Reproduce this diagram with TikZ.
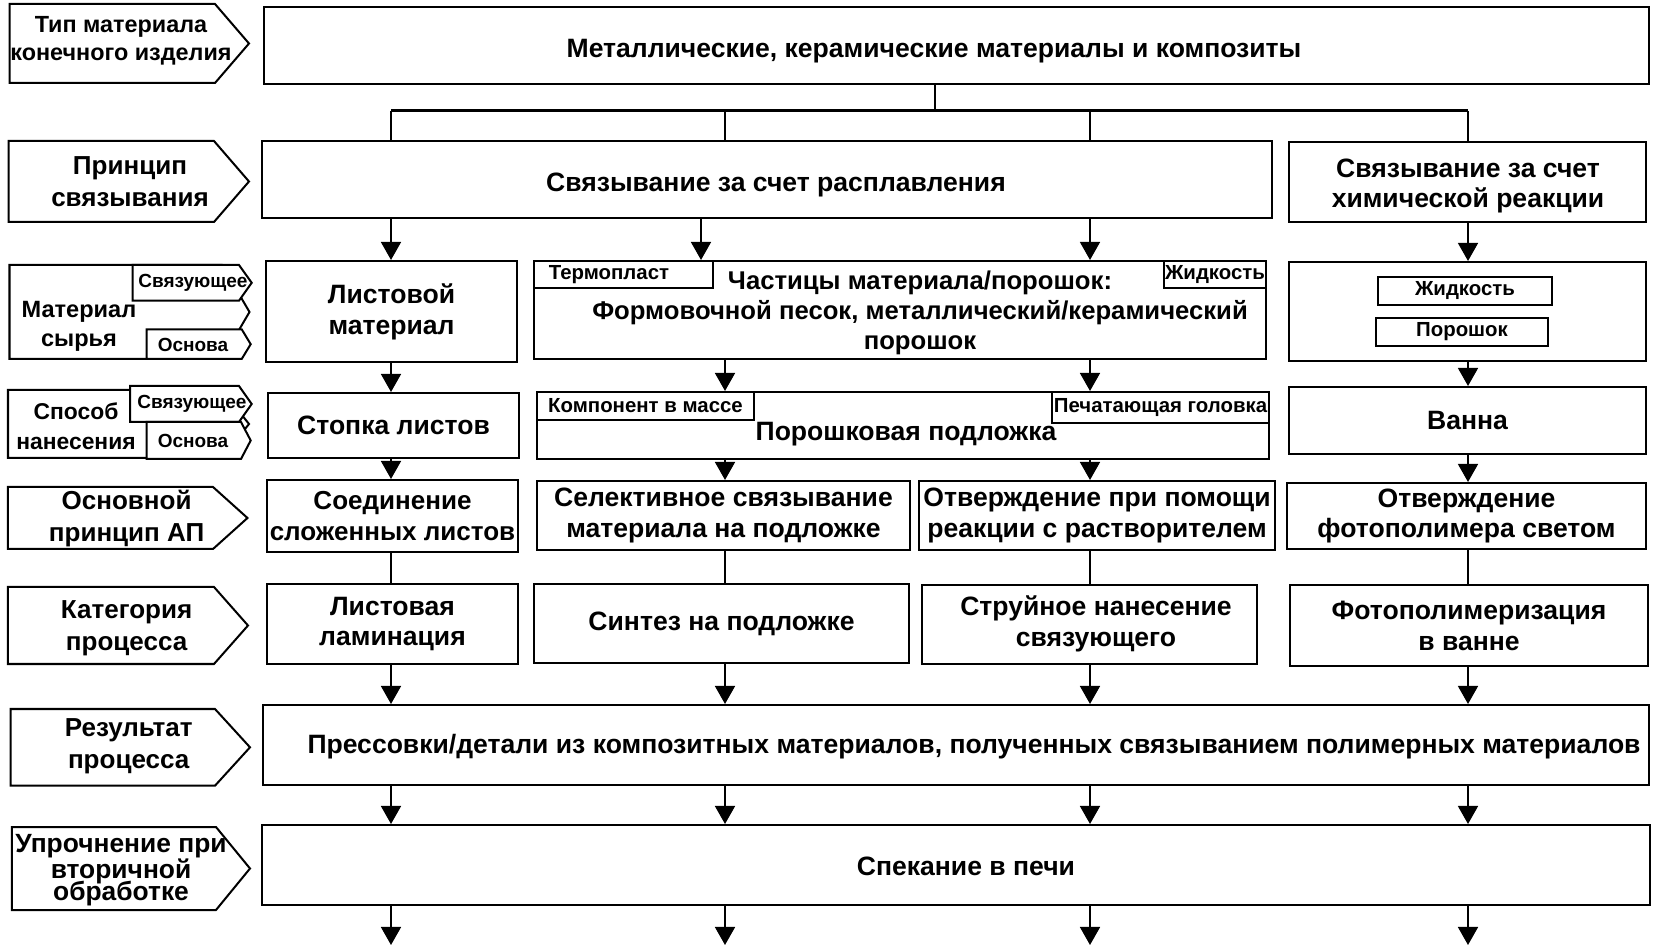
\documentclass[tikz,border=0pt]{standalone}
\usepackage{fontspec}
\setmainfont{Liberation Sans}
\usetikzlibrary{arrows.meta}

\begin{document}
\begin{tikzpicture}[x=0.01cm,y=-0.01cm,
  box/.style={draw, line width=0.02cm, inner sep=0pt, align=center, font=\fontsize{7.55}{8.8}\selectfont\bfseries},
  txt/.style={inner sep=0pt, align=center, font=\fontsize{7.55}{8.8}\selectfont\bfseries},
  tagbox/.style={draw, fill=white, line width=0.016cm, inner sep=0pt, font=\fontsize{5.8}{7}\selectfont\bfseries},
  lab/.style={align=center, inner sep=0pt, font=\fontsize{7.4}{9}\selectfont\bfseries},
  tagtext/.style={inner sep=0pt, font=\fontsize{5.4}{7}\selectfont\bfseries},
  arr/.style={-{Triangle[width=0.2cm,length=0.18cm]}, line width=0.016cm},
  link/.style={line width=0.016cm}]

\useasboundingbox (0,0) rectangle (1654,949);

% left column of row labels
\draw[line width=0.02cm] (9.6,4) -- (215,4) -- (249,43.5) -- (215,83) -- (9.6,83) -- cycle;
\node[lab, font=\fontsize{6.65}{8.1}\selectfont\bfseries] (typ) at (121,41) {Тип материала\\конечного изделия};

\draw[line width=0.02cm] (8.6,141) -- (214,141) -- (249,181.5) -- (214,222) -- (8.6,222) -- cycle;
\node[lab] (prin) at (130,182) {Принцип\\связывания};

\draw[line width=0.02cm] (9.5,265) -- (222,265) -- (249.5,312) -- (222,359) -- (9.5,359) -- cycle;
\draw[line width=0.02cm, fill=white] (132.7,265) -- (239,265) -- (251.7,282.8) -- (239,300.7) -- (132.7,300.7) -- cycle;
\draw[line width=0.02cm, fill=white] (146.7,329.3) -- (241.7,329.3) -- (250.7,344.2) -- (241.7,359) -- (146.7,359) -- cycle;
\node[lab, font=\fontsize{6.7}{8.2}\selectfont\bfseries] (raw) at (79,326) {Материал\\сырья};
\node[tagtext] (rawbind) at (193,283) {Связующее};
\node[tagtext] (rawbase) at (193,345) {Основа};

\draw[line width=0.02cm] (8,390) -- (222,390) -- (249,424) -- (222,458) -- (8,458) -- cycle;
\draw[line width=0.02cm, fill=white] (130,386) -- (239,386) -- (251.7,404) -- (239,422) -- (130,422) -- cycle;
\draw[line width=0.02cm, fill=white] (146.7,422) -- (241,422) -- (250.7,440.5) -- (241,459) -- (146.7,459) -- cycle;
\node[lab, font=\fontsize{6.5}{8.4}\selectfont\bfseries] (way) at (76,426) {Способ\\нанесения};
\node[tagtext] (waybind) at (192,404) {Связующее};
\node[tagtext] (waybase) at (193,441) {Основа};

\draw[line width=0.02cm] (7.9,487) -- (213,487) -- (247.5,518) -- (213,549) -- (7.9,549) -- cycle;
\node[lab] (basic) at (126.6,518.5) {Основной\\принцип АП};

\draw[line width=0.02cm] (7.9,587) -- (214,587) -- (248,625.5) -- (214,664) -- (7.9,664) -- cycle;
\node[lab] (cat) at (126.6,628) {Категория\\процесса};

\draw[line width=0.02cm] (10.7,709) -- (215,709) -- (250,747.3) -- (215,785.7) -- (10.7,785.7) -- cycle;
\node[lab] (res) at (128.7,746) {Результат\\процесса};

\draw[line width=0.02cm] (11.8,827) -- (216,827) -- (250,868.5) -- (216,910) -- (11.8,910) -- cycle;
\node[lab, font=\fontsize{7.5}{7.1}\selectfont\bfseries] (post) at (121,870) {Упрочнение при\\[-0.7pt]вторичной\\[-0.7pt]обработке};

% boxes
\node[box, minimum width=13.85cm, minimum height=0.76cm] (mat) at (956.5,45.5) {};
\node[txt] (mattext) at (934,51) {Металлические, керамические материалы и композиты};

\node[box, minimum width=10.1cm, minimum height=0.77cm] (melt) at (767,179.5) {};
\node[txt] (melttext) at (776,185) {Связывание за счет расплавления};
\node[box, minimum width=3.57cm, minimum height=0.80cm] (chem) at (1467.5,182) {};
\node[txt] (chemtext) at (1468,186) {Связывание за счет\\химической реакции};

\node[box, minimum width=2.51cm, minimum height=1.01cm] (sheet) at (391.5,311.5) {Листовой\\материал};
\node[box, minimum width=7.32cm, minimum height=0.98cm] (part) at (900,310) {};
\node[box, minimum width=3.57cm, minimum height=0.99cm] (chemmat) at (1467.5,311.5) {};

\node[tagbox, minimum width=1.79cm, minimum height=0.27cm] (termo) at (623.5,274.5) {};
\node[tagtext, font=\fontsize{5.8}{7}\selectfont\bfseries] (termotext) at (609,275) {Термопласт};
\node[tagbox, minimum width=1.02cm, minimum height=0.27cm] (liq) at (1215,274.5) {Жидкость};
\node[txt, font=\fontsize{7.3}{8.6}\selectfont\bfseries] (parttext) at (920,313) {Частицы материала/порошок:\\Формовочной песок, металлический/керамический\\порошок};
\node[tagbox, minimum width=1.74cm, minimum height=0.28cm] (chemliq) at (1465,291) {Жидкость};
\node[tagbox, minimum width=1.72cm, minimum height=0.28cm] (chempow) at (1462,332) {Порошок};

\node[box, minimum width=2.51cm, minimum height=0.65cm] (stack) at (393.5,425.5) {Стопка листов};
\node[box, minimum width=7.32cm, minimum height=0.67cm] (powder) at (903,425.5) {};
\node[box, minimum width=3.57cm, minimum height=0.67cm] (bath) at (1467.5,420.5) {Ванна};

\node[tagbox, minimum width=2.17cm, minimum height=0.28cm] (mass) at (645.5,406) {Компонент в массе};
\node[tagbox, minimum width=2.17cm, minimum height=0.31cm] (head) at (1160.5,407.5) {Печатающая головка};
\node[txt] (powdertext) at (906,434) {Порошковая подложка};

\node[box, minimum width=2.51cm, minimum height=0.72cm, font=\fontsize{7.4}{8.8}\selectfont\bfseries] (join) at (392.5,516) {Соединение\\сложенных листов};
\node[box, minimum width=3.73cm, minimum height=0.69cm] (select) at (723.5,515.5) {Селективное связывание\\материала на подложке};
\node[box, minimum width=3.56cm, minimum height=0.69cm] (solv) at (1097,515.5) {Отверждение при помощи\\реакции с растворителем};
\node[box, minimum width=3.59cm, minimum height=0.66cm] (cure) at (1466.5,516) {Отверждение\\фотополимера светом};

\node[box, minimum width=2.51cm, minimum height=0.80cm] (lamin) at (392.5,624) {Листовая\\ламинация};
\node[box, minimum width=3.75cm, minimum height=0.79cm] (synth) at (721.5,623.5) {Синтез на подложке};
\node[box, minimum width=3.35cm, minimum height=0.79cm] (jet) at (1089.5,624.5) {};
\node[txt] (jettext) at (1096,624) {Струйное нанесение\\связующего};
\node[box, minimum width=3.58cm, minimum height=0.81cm] (photo) at (1469,625.5) {Фотополимеризация\\в ванне};

\node[box, minimum width=13.85cm, minimum height=0.80cm] (result) at (956,745) {};
\node[txt] (resulttext) at (974,747) {Прессовки/детали из композитных материалов, полученных связыванием полимерных материалов};
\node[box, minimum width=13.87cm, minimum height=0.80cm] (sinter) at (956,865) {};
\node[txt] (sintertext) at (966,866) {Спекание в печи};

% columns
\coordinate (c1) at (391,0);
\coordinate (c2a) at (701,0);
\coordinate (c2) at (725,0);
\coordinate (c3) at (1090,0);
\coordinate (c4) at (1468,0);
\coordinate (fork) at (935,111);
\coordinate (busL) at (391,111);
\coordinate (busR) at (1468,111);

\draw[link] (mat.south -| fork) -- (fork);
\draw[line width=0.03cm] (busL) -- (busR);
\draw[link] (busL) -- (c1 |- melt.north);
\draw[link] (c2 |- busL) -- (c2 |- melt.north);
\draw[link] (c3 |- busL) -- (c3 |- melt.north);
\draw[link] (busR) -- (c4 |- chem.north);

\draw[arr] (c1 |- melt.south) -- (c1 |- sheet.north);
\draw[arr] (c2a |- melt.south) -- (c2a |- part.north);
\draw[arr] (c3 |- melt.south) -- (c3 |- part.north);
\draw[arr] (c4 |- chem.south) -- (c4 |- chemmat.north);

\draw[arr] (c1 |- sheet.south) -- (c1 |- stack.north);
\draw[arr] (c2 |- part.south) -- (c2 |- powder.north);
\draw[arr] (c3 |- part.south) -- (c3 |- powder.north);
\draw[arr] (c4 |- chemmat.south) -- (c4 |- bath.north);

\draw[arr] (c1 |- stack.south) -- (c1 |- join.north);
\draw[arr] (c2 |- powder.south) -- (c2 |- select.north);
\draw[arr] (c3 |- powder.south) -- (c3 |- solv.north);
\draw[arr] (c4 |- bath.south) -- (c4 |- cure.north);

\draw[link] (c1 |- join.south) -- (c1 |- lamin.north);
\draw[link] (c2 |- select.south) -- (c2 |- synth.north);
\draw[link] (c3 |- solv.south) -- (c3 |- jet.north);
\draw[link] (c4 |- cure.south) -- (c4 |- photo.north);

\draw[arr] (c1 |- lamin.south) -- (c1 |- result.north);
\draw[arr] (c2 |- synth.south) -- (c2 |- result.north);
\draw[arr] (c3 |- jet.south) -- (c3 |- result.north);
\draw[arr] (c4 |- photo.south) -- (c4 |- result.north);

\draw[arr] (c1 |- result.south) -- (c1 |- sinter.north);
\draw[arr] (c2 |- result.south) -- (c2 |- sinter.north);
\draw[arr] (c3 |- result.south) -- (c3 |- sinter.north);
\draw[arr] (c4 |- result.south) -- (c4 |- sinter.north);

\coordinate (e1) at (391,945);
\coordinate (e2) at (725,945);
\coordinate (e3) at (1090,945);
\coordinate (e4) at (1468,945);
\draw[arr] (c1 |- sinter.south) -- (e1);
\draw[arr] (c2 |- sinter.south) -- (e2);
\draw[arr] (c3 |- sinter.south) -- (e3);
\draw[arr] (c4 |- sinter.south) -- (e4);

\end{tikzpicture}
\end{document}
